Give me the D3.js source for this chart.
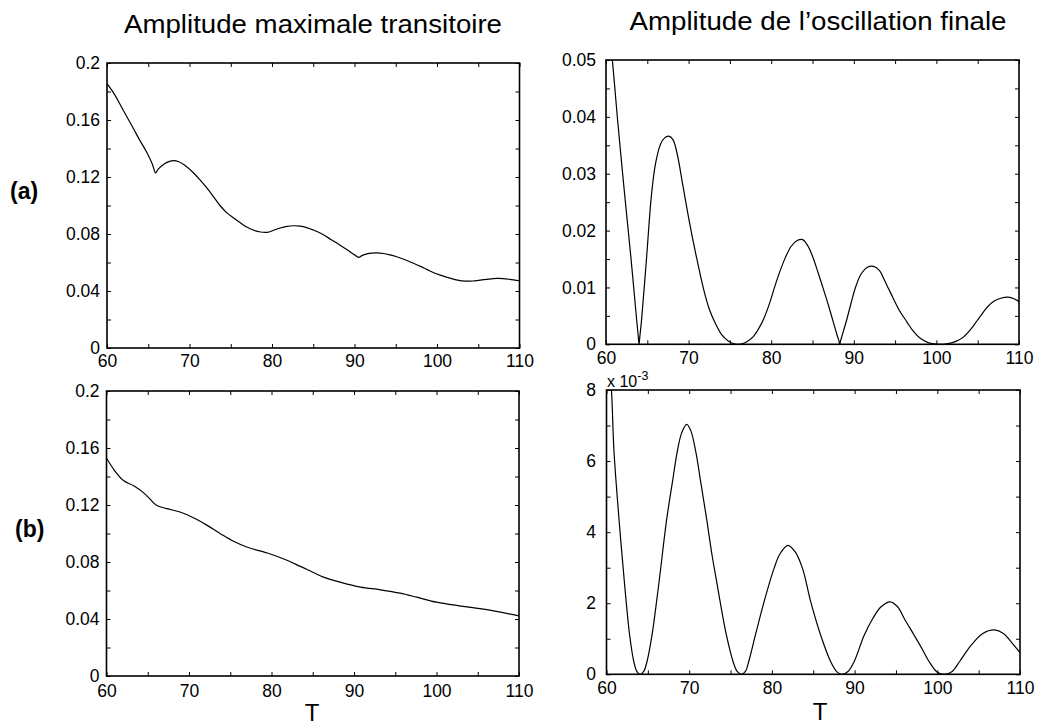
<!DOCTYPE html>
<html>
<head>
<meta charset="utf-8">
<script src="https://cdn.jsdelivr.net/npm/d3@7"></script>
<style>
  html, body { margin: 0; padding: 0; background: #fff; }
  svg { display: block; font-family: "Liberation Sans", Arial, sans-serif; }
</style>
</head>
<body>
<script>
// ---------- data ----------
const xTicks = [60, 65, 70, 75, 80, 85, 90, 95, 100, 105, 110];
const xLabels = [60, 70, 80, 90, 100, 110];

const yTicksTransient = [0, 0.02, 0.04, 0.06, 0.08, 0.1, 0.12, 0.14, 0.16, 0.18, 0.2];
const yLabelsTransient = [0, 0.04, 0.08, 0.12, 0.16, 0.2];
const yTicksFinalA = [0, 0.005, 0.01, 0.015, 0.02, 0.025, 0.03, 0.035, 0.04, 0.045, 0.05];
const yLabelsFinalA = [0, 0.01, 0.02, 0.03, 0.04, 0.05];
const yTicksFinalB = [0, 1, 2, 3, 4, 5, 6, 7, 8];
const yLabelsFinalB = [0, 2, 4, 6, 8];

const titles = ["Amplitude maximale transitoire", "Amplitude de l\u2019oscillation finale"];
const rowLabels = ["(a)", "(b)"];
const xAxisTitle = "T";

// (a) transient max amplitude
const aTransT = [60, 60.8, 62, 63.2, 64, 64.85, 65.5, 65.9, 66.2, 66.9, 67.5, 68.1, 68.7, 69.3, 70.5, 71.3, 72.1, 72.9, 73.7, 74.5, 75.35, 76.2, 77, 77.8, 78.6, 79.4, 80.2, 81, 81.8, 82.6, 83.4, 84.2, 85, 85.9, 86.7, 87.5, 88.3, 89.1, 89.8, 90.5, 90.9, 91.5, 92.1, 92.7, 93.5, 94.3, 95.1, 95.96, 97, 98, 98.8, 99.6, 100.6, 101.6, 102.5, 103.4, 104.3, 105.25, 106.3, 107.3, 108, 108.8, 110];
const aTransV = [0.1855, 0.179, 0.1665, 0.154, 0.1455, 0.137, 0.129, 0.1228, 0.1255, 0.129, 0.1308, 0.1315, 0.1307, 0.1287, 0.1228, 0.1178, 0.1123, 0.1063, 0.1, 0.095, 0.0912, 0.0877, 0.0847, 0.0826, 0.0814, 0.0812, 0.0826, 0.0842, 0.0853, 0.0858, 0.0855, 0.0845, 0.0828, 0.0805, 0.0778, 0.0749, 0.072, 0.069, 0.0662, 0.0636, 0.0648, 0.066, 0.0666, 0.0667, 0.0663, 0.0653, 0.064, 0.0623, 0.0598, 0.0573, 0.055, 0.0528, 0.0508, 0.049, 0.0476, 0.0469, 0.047, 0.0476, 0.0484, 0.0488, 0.0487, 0.0482, 0.0472];

// (a) final oscillation amplitude
const aFinalT = [60, 60.77, 61.4, 62.2, 63, 63.7, 63.9, 64, 64.1, 64.3, 64.9, 65.5, 66, 66.6, 67.1, 67.6, 68.1, 68.6, 69.3, 70.1, 70.9, 71.8, 72.5, 73.2, 74, 74.8, 75.5, 76.2, 77, 77.8, 78.5, 79.1, 79.8, 80.4, 81, 81.7, 82.4, 83.1, 83.8, 84.4, 85, 85.7, 86.3, 86.9, 87.5, 88, 88.2, 88.3, 88.4, 88.6, 89.1, 89.7, 90.2, 90.9, 91.6, 92.4, 93.1, 93.7, 94.2, 94.8, 95.5, 96.4, 97.2, 98, 99, 100, 100.8, 101.7, 102.5, 103.3, 104.2, 104.9, 105.6, 106.2, 107, 107.8, 108.7, 109.4, 110];
const aFinalV = [0.061, 0.05, 0.0395, 0.0272, 0.0155, 0.0045, 0.0015, 0, 0.0014, 0.0042, 0.015, 0.0262, 0.0318, 0.0352, 0.0363, 0.0366, 0.036, 0.0336, 0.028, 0.0215, 0.0157, 0.0098, 0.0062, 0.0038, 0.0017, 0.0006, 0.0001, 0, 0.0004, 0.0013, 0.0028, 0.0045, 0.0072, 0.01, 0.0126, 0.0152, 0.0172, 0.0182, 0.0184, 0.0174, 0.0155, 0.0125, 0.0098, 0.007, 0.004, 0.0015, 0.0006, 0, 0.0006, 0.0016, 0.0041, 0.0074, 0.01, 0.0124, 0.0135, 0.0137, 0.013, 0.0113, 0.0098, 0.008, 0.006, 0.004, 0.0023, 0.0011, 0.0003, 0.00002, 0, 0.0002, 0.0006, 0.0013, 0.0027, 0.0041, 0.0055, 0.0066, 0.0076, 0.0081, 0.0083, 0.008, 0.0075];

// (b) transient max amplitude
const bTransT = [60, 61, 62.1, 63.3, 64.5, 65.3, 66.05, 67.3, 69, 70.6, 72.2, 73.8, 75.4, 77, 79.5, 81.5, 83.5, 85, 86.3, 88.3, 90.8, 93.2, 95.6, 97.6, 100, 102, 105.7, 110];
const bTransV = [0.153, 0.144, 0.137, 0.1335, 0.1285, 0.124, 0.1198, 0.1175, 0.1149, 0.1109, 0.1057, 0.0999, 0.0945, 0.0905, 0.0863, 0.0821, 0.0769, 0.0728, 0.0694, 0.0659, 0.0624, 0.0605, 0.0581, 0.0553, 0.0518, 0.0499, 0.0469, 0.0422];

// (b) final oscillation amplitude (x 10^-3)
const bFinalT = [60, 60.6, 60.9, 61.5, 62.2, 62.8, 63.3, 63.7, 64.1, 64.5, 64.9, 65.5, 66.3, 67.3, 68, 68.55, 69.1, 69.7, 70.2, 70.8, 71.4, 72.1, 72.8, 73.4, 74, 74.5, 75.3, 75.8, 76.3, 76.8, 77.2, 78, 79.05, 80.26, 81, 81.95, 82.8, 83.7, 84.7, 85.9, 87.1, 87.9, 88.5, 89.2, 89.95, 91.16, 92.2, 93.2, 94.3, 95.2, 96, 97.2, 98.2, 99, 100, 100.9, 101.8, 102.7, 104.1, 105.5, 106.9, 108, 108.9, 110];
const bFinalV = [9.8, 8, 6.3, 4.4, 2.5, 1.1, 0.36, 0.07, 0, 0.08, 0.36, 1.1, 2.5, 4.4, 5.45, 6.26, 6.8, 7.03, 6.85, 6.26, 5.4, 4.38, 3.3, 2.5, 1.7, 1.1, 0.36, 0.08, 0, 0.08, 0.36, 1.1, 2.04, 2.98, 3.4, 3.63, 3.45, 2.98, 2.04, 1.1, 0.36, 0.06, 0, 0.08, 0.36, 1.1, 1.57, 1.9, 2.04, 1.9, 1.57, 1.1, 0.7, 0.36, 0.06, 0, 0.08, 0.36, 0.82, 1.15, 1.25, 1.15, 0.92, 0.61];

// ---------- layout ----------
const W = 1041, H = 727;
const svg = d3.select("body").append("svg").attr("width", W).attr("height", H);

const panels = [
  { id: "p0", T: aTransT, V: aTransV, x0: 107, x1: 519.5, y0: 63, y1: 348, yDom: [0, 0.2], yt: yTicksTransient, yl: yLabelsTransient, ypad: 7, xpad: 7 },
  { id: "p1", T: aFinalT, V: aFinalV, x0: 606, x1: 1019, y0: 60, y1: 344.3, yDom: [0, 0.05], yt: yTicksFinalA, yl: yLabelsFinalA, ypad: 10, xpad: 7.5 },
  { id: "p2", T: bTransT, V: bTransV, x0: 106.5, x1: 519, y0: 391, y1: 676, yDom: [0, 0.2], yt: yTicksTransient, yl: yLabelsTransient, ypad: 7, xpad: 8.5 },
  { id: "p3", T: bFinalT, V: bFinalV, x0: 606.5, x1: 1020, y0: 390, y1: 674.3, yDom: [0, 8], yt: yTicksFinalB, yl: yLabelsFinalB, ypad: 10.5, xpad: 7 }
];

const defs = svg.append("defs");
const TICK = 4;

panels.forEach(p => {
  const x = d3.scaleLinear().domain([60, 110]).range([p.x0, p.x1]);
  const y = d3.scaleLinear().domain(p.yDom).range([p.y1, p.y0]);
  const g = svg.append("g");

  defs.append("clipPath").attr("id", "clip-" + p.id)
    .append("rect").attr("x", p.x0).attr("y", p.y0)
    .attr("width", p.x1 - p.x0).attr("height", p.y1 - p.y0);

  const xFmt = d => xLabels.includes(d) ? String(d) : "";
  const yFmt = d => p.yl.includes(d) ? String(d) : "";

  g.append("g").attr("transform", `translate(0,${p.y1})`)
    .call(d3.axisBottom(x).tickValues(xTicks).tickFormat(xFmt).tickSizeInner(-TICK).tickSizeOuter(0).tickPadding(p.xpad));
  g.append("g").attr("transform", `translate(0,${p.y0})`)
    .call(d3.axisTop(x).tickValues(xTicks).tickFormat("").tickSizeInner(-TICK).tickSizeOuter(0));
  g.append("g").attr("transform", `translate(${p.x0},0)`)
    .call(d3.axisLeft(y).tickValues(p.yt).tickFormat(yFmt).tickSizeInner(-TICK).tickSizeOuter(0).tickPadding(p.ypad));
  g.append("g").attr("transform", `translate(${p.x1},0)`)
    .call(d3.axisRight(y).tickValues(p.yt).tickFormat("").tickSizeInner(-TICK).tickSizeOuter(0));

  g.selectAll(".domain").remove();
  g.selectAll(".tick line").attr("stroke", "#000").attr("stroke-width", 1);
  g.selectAll(".tick text").attr("fill", "#000")
    .style("font-family", "'Liberation Sans', Arial, sans-serif").style("font-size", "17.5px");

  g.append("rect").attr("x", p.x0).attr("y", p.y0)
    .attr("width", p.x1 - p.x0).attr("height", p.y1 - p.y0)
    .attr("fill", "none").attr("stroke", "#000").attr("stroke-width", 1.6);

  const pts = p.T.map((t, i) => [t, p.V[i]]);
  const line = d3.line().x(d => x(d[0])).y(d => y(d[1])).curve(d3.curveCatmullRom.alpha(0.5));
  g.append("path").datum(pts)
    .attr("clip-path", `url(#clip-${p.id})`)
    .attr("d", line).attr("fill", "none").attr("stroke", "#000").attr("stroke-width", 1.2);
});

// titles
svg.append("text").attr("x", 313).attr("y", 33).attr("text-anchor", "middle")
  .attr("textLength", 378).attr("lengthAdjust", "spacingAndGlyphs")
  .style("font-size", "26.5px").text(titles[0]);
svg.append("text").attr("x", 818).attr("y", 30).attr("text-anchor", "middle")
  .attr("textLength", 377).attr("lengthAdjust", "spacingAndGlyphs")
  .style("font-size", "26.5px").text(titles[1]);

// row labels
svg.append("text").attr("x", 10).attr("y", 199).style("font-size", "23px").style("font-weight", "bold").text(rowLabels[0]);
svg.append("text").attr("x", 15).attr("y", 537).style("font-size", "23px").style("font-weight", "bold").text(rowLabels[1]);

// x-axis titles
svg.append("text").attr("x", 312).attr("y", 721).attr("text-anchor", "middle").style("font-size", "24px").text(xAxisTitle);
svg.append("text").attr("x", 820).attr("y", 720).attr("text-anchor", "middle").style("font-size", "24px").text(xAxisTitle);

// exponent label
const ex = svg.append("text").attr("x", 607).attr("y", 387).style("font-size", "16px");
ex.append("tspan").text("x 10");
ex.append("tspan").attr("dy", -7).style("font-size", "12.5px").text("-3");
</script>
</body>
</html>
